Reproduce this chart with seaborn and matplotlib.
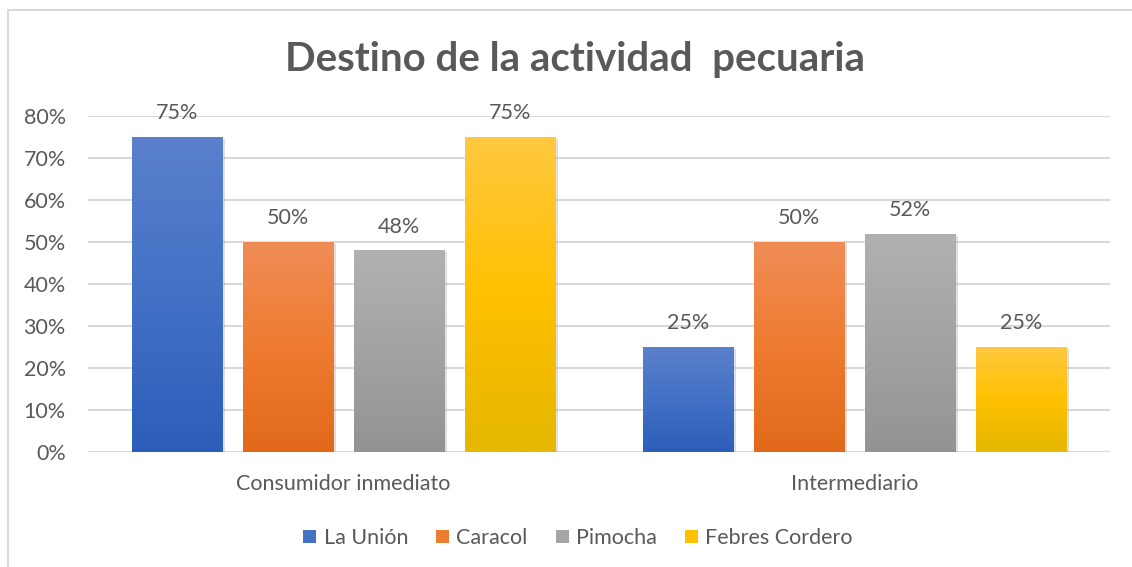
import numpy as np
import pandas as pd
import matplotlib.pyplot as plt
import matplotlib.patheffects as pe
from matplotlib.colors import LinearSegmentedColormap
from matplotlib.lines import Line2D
from matplotlib.patches import Patch
import seaborn as sns

# Datos del gráfico
categorias = ["Consumidor inmediato", "Intermediario"]
lugares = ["La Unión", "Caracol", "Pimocha", "Febres Cordero"]
la_union = [0.75, 0.25]
caracol = [0.50, 0.50]
pimocha = [0.48, 0.52]
febres_cordero = [0.75, 0.25]
titulo = "Destino de la actividad  pecuaria"

# Colores (arriba, medio, abajo) de cada degradado
colores_medio = ["#4472C4", "#ED7D31", "#A5A5A5", "#FFC000"]
degradados = [
    ["#5B80CC", "#4271C6", "#2C5EB9"],
    ["#F08D57", "#EE7B30", "#E2691A"],
    ["#B1B1B1", "#A3A3A3", "#939393"],
    ["#FFC940", "#FFC000", "#E5B700"],
]
GRIS_TEXTO = "#595959"
GRIS_LINEA = "#D9D9D9"
TAM = 15.5

valores = [la_union, caracol, pimocha, febres_cordero]
filas = []
for lugar, vals in zip(lugares, valores):
    for cat, v in zip(categorias, vals):
        filas.append({"destino": cat, "lugar": lugar, "valor": v})
df = pd.DataFrame(filas)

sns.set_style("white")
plt.rcParams['font.family'] = ['Lato', 'DejaVu Sans']

fig = plt.figure(figsize=(11.32, 5.67), dpi=100)
ax = fig.add_axes([88 / 1132, 1 - 452 / 567, (1110 - 88) / 1132, (452 - 116) / 567])

sns.barplot(data=df, x="destino", y="valor", hue="lugar", hue_order=lugares,
            order=categorias, palette=colores_medio, saturation=1, width=0.87,
            gap=0.19, errorbar=None, legend=False, ax=ax)

ax.set_xlim(-0.5, 1.5)
ax.set_ylim(0, 0.8)

# Degradado + sombra en cada barra
sombra = [pe.SimplePatchShadow(offset=(2, -1.5), shadow_rgbFace="#909090", alpha=0.3), pe.Normal()]
grad = np.linspace(1, 0, 256).reshape(-1, 1)
for i, cont in enumerate(ax.containers):
    cmap = LinearSegmentedColormap.from_list(f"g{i}", degradados[i][::-1])
    for bar in cont:
        bar.set_path_effects(sombra)
        x0 = bar.get_x()
        w = bar.get_width()
        h = bar.get_height()
        im = ax.imshow(grad, cmap=cmap, vmin=0, vmax=1, aspect="auto",
                       extent=[x0, x0 + w, 0, h], zorder=bar.get_zorder() + 0.1,
                       interpolation="bilinear")
        im.set_clip_path(bar)
    ax.bar_label(cont, labels=[f"{v * 100:.0f}%" for v in cont.datavalues],
                 padding=10, fontsize=TAM, color=GRIS_TEXTO)

ax.set_xlim(-0.5, 1.5)
ax.set_ylim(0, 0.8)
ax.set_yticks(np.arange(0, 0.81, 0.1))
ax.set_yticklabels([f"{int(round(t * 100))}%" for t in np.arange(0, 0.81, 0.1)])
ax.set_xlabel("")
ax.set_ylabel("")
ax.yaxis.grid(True, color=GRIS_LINEA, lw=1.5)
ax.set_axisbelow(True)
for s in ax.spines.values():
    s.set_visible(False)
ax.tick_params(axis="both", length=0, colors=GRIS_TEXTO, labelsize=TAM)
ax.tick_params(axis="y", pad=16)
ax.tick_params(axis="x", pad=16)

# Título
fig.text(575 / 1132, 1 - 60 / 567, titulo, ha="center", va="center",
         fontsize=29, fontweight="bold", color=GRIS_TEXTO)

# Leyenda
manijas = [Patch(facecolor=c, edgecolor="none") for c in colores_medio]
fig.legend(manijas, lugares, loc="center", bbox_to_anchor=(578 / 1132, 1 - 538 / 567),
           ncol=4, frameon=False, fontsize=TAM, labelcolor=GRIS_TEXTO,
           handlelength=0.6, handleheight=0.6, handletextpad=0.35, columnspacing=1.3)

# Borde del área del gráfico
fig.add_artist(Line2D([7.5 / 1132, 7.5 / 1132], [0, 1 - 10 / 567], color=GRIS_LINEA, lw=1.5))
fig.add_artist(Line2D([7.5 / 1132, 1], [1 - 10 / 567, 1 - 10 / 567], color=GRIS_LINEA, lw=1.5))

fig.savefig("out.png", dpi=100, facecolor="white")
